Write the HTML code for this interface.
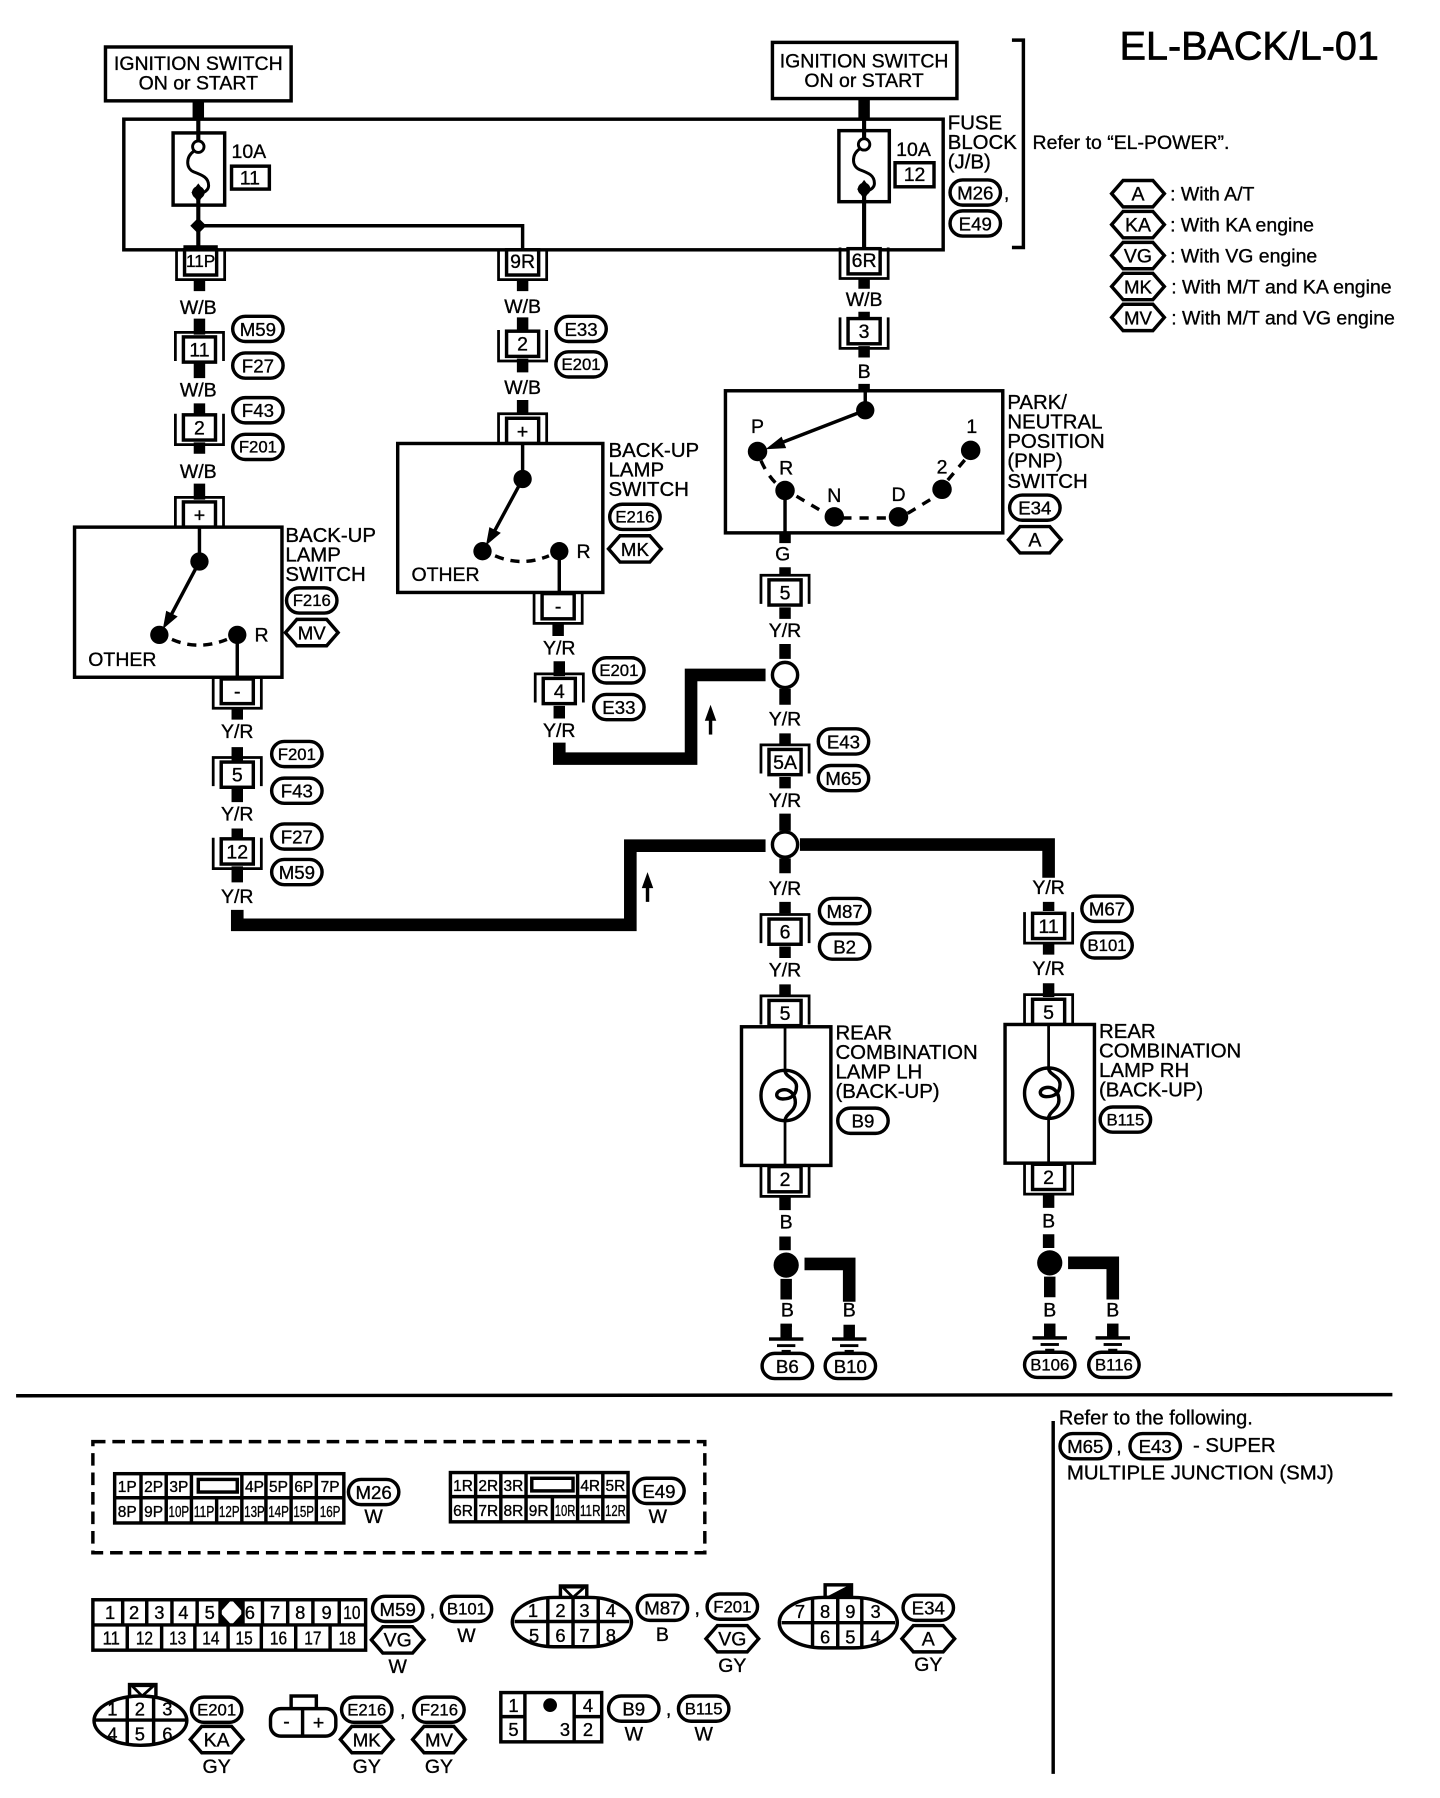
<!DOCTYPE html>
<html><head><meta charset="utf-8"><title>EL-BACK/L-01</title>
<style>
html,body{margin:0;padding:0;background:#fff}
svg{display:block}
text{font-family:"Liberation Sans",sans-serif;font-size:17px;fill:#000;stroke:#000;stroke-width:.3}
.m{text-anchor:middle}
.c{font-size:17.8px}
.s{font-size:16.3px}
.q{font-size:14.6px}
.t{font-size:13.5px}
.b{font-size:16px}
.w{fill:none;stroke:#000;stroke-width:10}
.n{fill:none;stroke:#000;stroke-width:3}
.l{fill:none;stroke:#000;stroke-width:2.4}
.f{fill:#fff;stroke:#000;stroke-width:3}
.d{fill:#000}
</style></head><body>
<svg xmlns="http://www.w3.org/2000/svg" width="1440" height="1798" viewBox="0 0 1256.5 1569">
<defs>
<g id="cap"><path class="l" d="M-21 10V-15H21V10"/><rect class="f" x="-14" y="-11" width="28" height="22"/></g>
<g id="cup"><path class="l" d="M-21 -12V15H21V-12"/><rect class="f" x="-14" y="-11" width="28" height="22"/></g>
<rect id="o" class="f" x="-22" y="-11" width="44" height="22" rx="11"/>
<polygon id="h" class="f" points="-23,0 -13,-11.5 13,-11.5 23,0 13,11.5 -13,11.5"/>
<g id="gnd"><rect x="-5" y="-12" width="10" height="12" class="d"/><rect x="-15" y="-1" width="30" height="3" class="d"/><rect x="-8" y="5" width="16" height="2.5" class="d"/><rect x="-4" y="10" width="8" height="2" class="d"/></g>
<path id="fs" class="l" style="stroke-width:2.6" d="M-4 4C-11 9-11 19-4 22C4 25 9 27 9 34C9 38 5 40 2 41"/>
<path id="coil" class="n" d="M0 -22C0 -16 10 -15 10 -8C10 0 5 3 -2 3C-9 3 -9 -4 -2 -5C5 -6 9 0 9 6C9 14 0 16 0 22"/>
</defs>
<rect width="1256.5" height="1569" fill="#fff"/>

<!-- thick wire segments -->
<g class="w">
<path d="M173 88V105M754 86V105"/>
<path d="M174 243V254M174 278V292M174 316V330M174 352V362M174 386V396M174 422V436"/>
<path d="M207 618V628M207 652V664M207 688V700M207 723V733M207 756V770"/>
<path d="M456 243V254M456 277V291M456 313V325M456 349V362"/>
<path d="M487 545V555M488 577V590M488 616V627"/>
<path d="M754 243V252M754 272V280M754 302V312M754 335V342"/>
<path d="M685 465V474M685 495V503M685 530V540M685 562V575M685 601V615M685 640V651M685 678V688M685 710V725M685 749V762M685 787V797M685 826V836M685 859V869M685 1044V1056M685 1079V1091M686 1116V1134M686 1155V1158"/>
<path d="M915 787V795M915 822V833M915 858V870M915 1042V1054M915 1077V1089M916 1114V1132"/>
</g>
<g fill="none" stroke="#000" stroke-width="11">
<path d="M207 794V807H550V738H668"/>
<path d="M488 648V662H603V589H668"/>
<path d="M698 737H915V766"/>
<path d="M702 1103H741V1136"/>
<path d="M932 1102H971V1134"/>
</g>

<!-- ignition -->
<rect class="f" x="92" y="41" width="162" height="47"/>
<text class="m" x="173" y="61">IGNITION SWITCH</text><text class="m" x="173" y="78">ON or START</text>
<rect class="f" x="674" y="37" width="161" height="49"/>
<text class="m" x="754" y="59">IGNITION SWITCH</text><text class="m" x="754" y="76">ON or START</text>

<!-- fuse block -->
<rect class="f" x="108" y="104" width="715" height="114"/>
<path class="n" style="stroke-width:3.6" d="M173 104V124M173 168V218M754 104V122M754 165V216"/>
<path class="n" d="M173 197H456V218"/>
<rect class="n" x="151" y="116" width="45" height="63"/>
<rect class="n" x="732" y="114" width="44" height="62"/>
<g transform="translate(173 128)"><use href="#fs"/><circle r="5" fill="#fff" stroke="#000" stroke-width="2.5"/><polygon class="d" points="0,32 6,40 0,49 -6,40"/><circle cy="40" r="5.5" class="d"/></g>
<g transform="translate(754 126)"><use href="#fs"/><circle r="5" fill="#fff" stroke="#000" stroke-width="2.5"/><polygon class="d" points="0,31 6,39 0,48 -6,39"/><circle cy="39" r="5.5" class="d"/></g>
<polygon class="d" points="173,190 180,197 173,204 166,197"/>
<text x="202" y="138">10A</text><rect class="n" x="202" y="145" width="33" height="20"/><text class="m" x="218" y="161">11</text>
<text x="782" y="136">10A</text><rect class="n" x="781" y="142" width="34" height="21"/><text class="m" x="798" y="158">12</text>
<text class="c" x="827" y="113">FUSE</text><text class="c" x="827" y="130">BLOCK</text><text class="c" x="827" y="147">(J/B)</text>
<use href="#o" x="851" y="168"/><text class="m s" x="851" y="174">M26</text><text x="876" y="174">,</text>
<use href="#o" x="851" y="195"/><text class="m s" x="851" y="201">E49</text>
<path class="n" d="M883 35H893V216H883"/>
<text x="901" y="130">Refer to “EL-POWER”.</text>
<text x="977" y="52" style="font-size:34.5px;stroke-width:.6">EL-BACK/L-01</text>

<!-- legend -->
<use href="#h" x="993" y="169"/><text class="m" x="993" y="175">A</text><text x="1021" y="175">: With A/T</text>
<use href="#h" x="993" y="196"/><text class="m" x="993" y="202">KA</text><text x="1021" y="202">: With KA engine</text>
<use href="#h" x="993" y="223"/><text class="m" x="993" y="229">VG</text><text x="1021" y="229">: With VG engine</text>
<use href="#h" x="993" y="250"/><text class="m s" x="993" y="256">MK</text><text x="1022" y="256">: With M/T and KA engine</text>
<use href="#h" x="993" y="277"/><text class="m s" x="993" y="283">MV</text><text x="1022" y="283">: With M/T and VG engine</text>

<!-- left column -->
<use href="#cup" x="175" y="229"/><rect x="160" y="214" width="30" height="4" class="d"/><text class="m t" style="font-size:15px" x="175" y="233">11P</text>
<text class="m" x="173" y="274">W/B</text>
<use href="#cap" x="174" y="305"/><text class="m" x="174" y="311">11</text>
<text class="m" x="173" y="346">W/B</text>
<use href="#cup" x="174" y="373"/><text class="m" x="174" y="379">2</text>
<text class="m" x="173" y="417">W/B</text>
<use href="#o" x="225" y="287"/><text class="m s" x="225" y="293">M59</text>
<use href="#o" x="225" y="319"/><text class="m s" x="225" y="325">F27</text>
<use href="#o" x="225" y="358"/><text class="m s" x="225" y="364">F43</text>
<use href="#o" x="225" y="390"/><text class="m q" x="225" y="395">F201</text>

<use href="#cap" x="174" y="449"/><text class="m" x="174" y="455">+</text>
<rect class="f" x="65" y="460" width="181" height="131"/>
<path class="n" d="M174 460V490M207 554V591"/>
<circle cx="174" cy="490" r="8" class="d"/><circle cx="139" cy="554" r="8" class="d"/><circle cx="207" cy="554" r="8" class="d"/>
<path class="n" d="M174 490L147 541"/><polygon class="d" points="142,549 145,533 155,538"/>
<path class="n" stroke-dasharray="8 6" d="M150 558Q173 568 198 558"/>
<text x="222" y="560">R</text><text x="77" y="581">OTHER</text>
<text class="c" x="249" y="473">BACK-UP</text><text class="c" x="249" y="490">LAMP</text><text class="c" x="249" y="507">SWITCH</text>
<use href="#o" x="272" y="524"/><text class="m q" x="272" y="529">F216</text>
<use href="#h" x="272" y="552"/><text class="m s" x="272" y="558">MV</text>

<use href="#cup" x="207" y="603"/><rect x="193" y="591" width="28" height="3" class="d"/><text class="m" x="207" y="609">-</text>
<text class="m" x="207" y="644">Y/R</text>
<use href="#cap" x="207" y="676"/><text class="m" x="207" y="682">5</text>
<text class="m" x="207" y="716">Y/R</text>
<use href="#cup" x="207" y="743"/><text class="m" x="207" y="749">12</text>
<text class="m" x="207" y="788">Y/R</text>
<use href="#o" x="259" y="658"/><text class="m q" x="259" y="663">F201</text>
<use href="#o" x="259" y="690"/><text class="m s" x="259" y="696">F43</text>
<use href="#o" x="259" y="730"/><text class="m s" x="259" y="736">F27</text>
<use href="#o" x="259" y="761"/><text class="m s" x="259" y="767">M59</text>
<path d="M565 787V771" stroke="#000" stroke-width="3"/><polygon class="d" points="565,761 560,775 570,775"/>

<!-- middle column -->
<use href="#cup" x="456" y="229"/><text class="m" x="456" y="234">9R</text>
<text class="m" x="456" y="273">W/B</text>
<use href="#cup" x="456" y="300"/><text class="m" x="456" y="306">2</text>
<text class="m" x="456" y="344">W/B</text>
<use href="#o" x="507" y="287"/><text class="m s" x="507" y="293">E33</text>
<use href="#o" x="507" y="318"/><text class="m q" x="507" y="323">E201</text>
<use href="#cap" x="456" y="376"/><text class="m" x="456" y="382">+</text>
<rect class="f" x="347" y="387" width="179" height="130"/>
<path class="n" d="M456 387V418M488 481V517"/>
<circle cx="456" cy="418" r="8" class="d"/><circle cx="421" cy="481" r="8" class="d"/><circle cx="488" cy="481" r="8" class="d"/>
<path class="n" d="M456 418L429 468"/><polygon class="d" points="424,476 427,460 437,465"/>
<path class="n" stroke-dasharray="8 6" d="M432 485Q455 495 479 485"/>
<text x="503" y="487">R</text><text x="359" y="507">OTHER</text>
<text class="c" x="531" y="399">BACK-UP</text><text class="c" x="531" y="416">LAMP</text><text class="c" x="531" y="433">SWITCH</text>
<use href="#o" x="554" y="451"/><text class="m q" x="554" y="456">E216</text>
<use href="#h" x="554" y="479"/><text class="m s" x="554" y="485">MK</text>
<use href="#cup" x="487" y="529"/><text class="m" x="487" y="535">-</text>
<text class="m" x="488" y="571">Y/R</text>
<use href="#cap" x="488" y="603"/><text class="m" x="488" y="609">4</text>
<text class="m" x="488" y="643">Y/R</text>
<use href="#o" x="540" y="585"/><text class="m q" x="540" y="590">E201</text>
<use href="#o" x="540" y="617"/><text class="m s" x="540" y="623">E33</text>
<path d="M620 641V625" stroke="#000" stroke-width="3"/><polygon class="d" points="620,615 615,629 625,629"/>

<!-- right column -->
<use href="#cup" x="754" y="228"/><text class="m" x="754" y="233">6R</text>
<text class="m" x="754" y="267">W/B</text>
<use href="#cup" x="754" y="289"/><text class="m" x="754" y="295">3</text>
<text class="m" x="754" y="330">B</text>

<rect class="f" x="633" y="341" width="242" height="124"/>
<path class="n" d="M755 341V358M685 428V465"/>
<circle cx="755" cy="358" r="8" class="d"/>
<circle cx="661" cy="394" r="8.5" class="d"/><circle cx="685" cy="428" r="8.5" class="d"/><circle cx="728" cy="451" r="8.5" class="d"/><circle cx="784" cy="451" r="8.5" class="d"/><circle cx="822" cy="427" r="8.5" class="d"/><circle cx="847" cy="393" r="8.5" class="d"/>
<path class="n" d="M755 358L675 389"/><polygon class="d" points="668,392 682,381 686,391"/>
<path class="n" stroke-dasharray="8 7" d="M664 402Q672 420 685 428M695 433L722 449M735 452H778M792 448L815 434M827 419L843 400"/>
<text class="m" x="661" y="378">P</text><text class="m" x="686" y="414">R</text><text class="m" x="728" y="438">N</text><text class="m" x="784" y="437">D</text><text class="m" x="822" y="413">2</text><text class="m" x="848" y="378">1</text>
<text class="c" x="879" y="357">PARK/</text><text class="c" x="879" y="374">NEUTRAL</text><text class="c" x="879" y="391">POSITION</text><text class="c" x="879" y="408">(PNP)</text><text class="c" x="879" y="426">SWITCH</text>
<use href="#o" x="903" y="443"/><text class="m s" x="903" y="449">E34</text>
<use href="#h" x="903" y="471"/><text class="m" x="903" y="477">A</text>

<text class="m" x="683" y="489">G</text>
<use href="#cap" x="685" y="517"/><text class="m" x="685" y="523">5</text>
<text class="m" x="685" y="556">Y/R</text>
<circle class="f" cx="685" cy="589" r="11"/>
<text class="m" x="685" y="633">Y/R</text>
<use href="#cap" x="685" y="665"/><text class="m" x="685" y="671">5A</text>
<text class="m" x="685" y="704">Y/R</text>
<circle class="f" cx="685" cy="737" r="11"/>
<text class="m" x="685" y="781">Y/R</text>
<use href="#cap" x="685" y="813"/><text class="m" x="685" y="819">6</text>
<text class="m" x="685" y="852">Y/R</text>
<use href="#o" x="736" y="647"/><text class="m s" x="736" y="653">E43</text>
<use href="#o" x="736" y="679"/><text class="m s" x="736" y="685">M65</text>
<use href="#o" x="737" y="795"/><text class="m s" x="737" y="801">M87</text>
<use href="#o" x="737" y="826"/><text class="m s" x="737" y="832">B2</text>

<text class="m" x="915" y="780">Y/R</text>
<use href="#cup" x="915" y="808"/><text class="m" x="915" y="814">11</text>
<text class="m" x="915" y="851">Y/R</text>
<use href="#o" x="966" y="793"/><text class="m s" x="966" y="799">M67</text>
<use href="#o" x="966" y="825"/><text class="m q" x="966" y="830">B101</text>

<!-- lamps -->
<use href="#cap" x="685" y="884"/><text class="m" x="685" y="890">5</text>
<rect class="f" x="647" y="896" width="78" height="121"/>
<path class="l" d="M685 896V934M685 978V1017"/>
<ellipse cx="685" cy="956" rx="21" ry="22" class="n"/>
<use href="#coil" x="685" y="956"/>
<use href="#cup" x="685" y="1029"/><text class="m" x="685" y="1035">2</text>
<text class="c" x="729" y="907">REAR</text><text class="c" x="729" y="924">COMBINATION</text><text class="c" x="729" y="941">LAMP LH</text><text class="c" x="729" y="958">(BACK-UP)</text>
<use href="#o" x="753" y="978"/><text class="m s" x="753" y="984">B9</text>
<text class="m" x="686" y="1072">B</text>
<circle cx="686" cy="1104" r="11" class="d"/>
<text class="m" x="687" y="1149">B</text><text class="m" x="741" y="1149">B</text>
<use href="#gnd" x="686" y="1168"/><use href="#gnd" x="741" y="1168"/>
<use href="#o" x="687" y="1192"/><text class="m s" x="687" y="1198">B6</text>
<use href="#o" x="742" y="1192"/><text class="m s" x="742" y="1198">B10</text>

<use href="#cap" x="915" y="883"/><text class="m" x="915" y="889">5</text>
<rect class="f" x="877" y="894" width="78" height="121"/>
<path class="l" d="M915 894V932M915 976V1015"/>
<ellipse cx="915" cy="954" rx="21" ry="22" class="n"/>
<use href="#coil" x="915" y="954"/>
<use href="#cup" x="915" y="1027"/><text class="m" x="915" y="1033">2</text>
<text class="c" x="959" y="906">REAR</text><text class="c" x="959" y="923">COMBINATION</text><text class="c" x="959" y="940">LAMP RH</text><text class="c" x="959" y="957">(BACK-UP)</text>
<use href="#o" x="982" y="977"/><text class="m q" x="982" y="982">B115</text>
<text class="m" x="915" y="1071">B</text>
<circle cx="916" cy="1102" r="11" class="d"/>
<text class="m" x="916" y="1149">B</text><text class="m" x="971" y="1149">B</text>
<use href="#gnd" x="916" y="1167"/><use href="#gnd" x="971" y="1167"/>
<use href="#o" x="916" y="1191"/><text class="m q" x="916" y="1196">B106</text>
<use href="#o" x="972" y="1191"/><text class="m q" x="972" y="1196">B116</text>

<!-- dividers -->
<path class="n" d="M14 1218L1215 1217M919 1240V1548"/>
<text x="924" y="1243" style="font-size:17.5px">Refer to the following.</text>
<use href="#o" x="947" y="1262"/><text class="m s" x="947" y="1268">M65</text><text x="974" y="1268">,</text>
<use href="#o" x="1008" y="1262"/><text class="m s" x="1008" y="1268">E43</text>
<text class="c" x="1041" y="1267">- SUPER</text>
<text class="c" x="931" y="1291">MULTIPLE JUNCTION (SMJ)</text>

<!-- fuse block connector views -->
<rect x="81" y="1258" width="534" height="97" fill="none" stroke="#000" stroke-width="3" stroke-dasharray="11 6"/>
<rect class="n" x="100" y="1286" width="200" height="43"/>
<path class="n" d="M100 1307H300M123 1286V1329M145 1286V1329M167 1286V1329M211 1286V1307M232 1286V1307M254 1286V1307M276 1286V1307M189 1307V1329M211 1307V1329M232 1307V1329M254 1307V1329M276 1307V1329"/>
<rect class="n" x="173" y="1291" width="34" height="11"/>
<g>
<text class="m t" x="111" y="1302">1P</text><text class="m t" x="134" y="1302">2P</text><text class="m t" x="156" y="1302">3P</text><text class="m t" x="222" y="1302">4P</text><text class="m t" x="243" y="1302">5P</text><text class="m t" x="265" y="1302">6P</text><text class="m t" x="288" y="1302">7P</text>
<text class="m t" x="111" y="1324">8P</text><text class="m t" x="134" y="1324">9P</text>
<text class="m t" x="156" y="1324" textLength="18" lengthAdjust="spacingAndGlyphs">10P</text><text class="m t" x="178" y="1324" textLength="18" lengthAdjust="spacingAndGlyphs">11P</text><text class="m t" x="200" y="1324" textLength="18" lengthAdjust="spacingAndGlyphs">12P</text><text class="m t" x="222" y="1324" textLength="18" lengthAdjust="spacingAndGlyphs">13P</text><text class="m t" x="243" y="1324" textLength="18" lengthAdjust="spacingAndGlyphs">14P</text><text class="m t" x="265" y="1324" textLength="18" lengthAdjust="spacingAndGlyphs">15P</text><text class="m t" x="288" y="1324" textLength="18" lengthAdjust="spacingAndGlyphs">16P</text>
</g>
<use href="#o" x="326" y="1302"/><text class="m s" x="326" y="1308">M26</text><text class="m" x="326" y="1329">W</text>

<rect class="n" x="393" y="1285" width="155" height="43"/>
<path class="n" d="M393 1306H548M415 1285V1328M437 1285V1328M459 1285V1328M504 1285V1306M526 1285V1328M482 1306V1328M504 1306V1328"/>
<rect class="n" x="464" y="1290" width="36" height="11"/>
<text class="m t" x="404" y="1301">1R</text><text class="m t" x="426" y="1301">2R</text><text class="m t" x="448" y="1301">3R</text><text class="m t" x="515" y="1301">4R</text><text class="m t" x="537" y="1301">5R</text>
<text class="m t" x="404" y="1323">6R</text><text class="m t" x="426" y="1323">7R</text><text class="m t" x="448" y="1323">8R</text><text class="m t" x="470" y="1323">9R</text>
<text class="m t" x="493" y="1323" textLength="18" lengthAdjust="spacingAndGlyphs">10R</text><text class="m t" x="515" y="1323" textLength="18" lengthAdjust="spacingAndGlyphs">11R</text><text class="m t" x="537" y="1323" textLength="18" lengthAdjust="spacingAndGlyphs">12R</text>
<use href="#o" x="575" y="1301"/><text class="m s" x="575" y="1307">E49</text><text class="m" x="574" y="1329">W</text>

<!-- 18-pin -->
<rect class="n" x="81" y="1396" width="238" height="44"/>
<path class="n" d="M81 1418H319M107 1396V1418M128 1396V1418M150 1396V1418M172 1396V1418M192 1396V1418M212 1396V1418M229 1396V1418M251 1396V1418M273 1396V1418M296 1396V1418M111 1418V1440M141 1418V1440M170 1418V1440M199 1418V1440M228 1418V1440M258 1418V1440M288 1418V1440"/>
<polygon class="d" points="192,1396 202,1396 192,1407"/><polygon class="d" points="202,1396 212,1396 212,1407"/><polygon class="d" points="192,1407 202,1418 192,1418"/><polygon class="d" points="212,1407 212,1418 202,1418"/>
<text class="m b" x="96" y="1413">1</text><text class="m b" x="117" y="1413">2</text><text class="m b" x="139" y="1413">3</text><text class="m b" x="160" y="1413">4</text><text class="m b" x="183" y="1413">5</text><text class="m b" x="218" y="1413">6</text><text class="m b" x="240" y="1413">7</text><text class="m b" x="262" y="1413">8</text><text class="m b" x="285" y="1413">9</text><text class="m b" x="307" y="1413" textLength="15" lengthAdjust="spacingAndGlyphs">10</text>
<text class="m b" x="97" y="1435" textLength="15" lengthAdjust="spacingAndGlyphs">11</text><text class="m b" x="126" y="1435" textLength="15" lengthAdjust="spacingAndGlyphs">12</text><text class="m b" x="155" y="1435" textLength="15" lengthAdjust="spacingAndGlyphs">13</text><text class="m b" x="184" y="1435" textLength="15" lengthAdjust="spacingAndGlyphs">14</text><text class="m b" x="213" y="1435" textLength="15" lengthAdjust="spacingAndGlyphs">15</text><text class="m b" x="243" y="1435" textLength="15" lengthAdjust="spacingAndGlyphs">16</text><text class="m b" x="273" y="1435" textLength="15" lengthAdjust="spacingAndGlyphs">17</text><text class="m b" x="303" y="1435" textLength="15" lengthAdjust="spacingAndGlyphs">18</text>
<use href="#o" x="347" y="1404"/><text class="m s" x="347" y="1410">M59</text><text x="375" y="1410">,</text>
<use href="#o" x="407" y="1404"/><text class="m q" x="407" y="1409">B101</text>
<use href="#h" x="347" y="1431"/><text class="m" x="347" y="1437">VG</text>
<text class="m" x="347" y="1460">W</text><text class="m" x="407" y="1433">W</text>

<!-- 8-pin -->
<rect class="n" x="489" y="1384" width="23" height="11"/><polygon class="l" points="491,1385 510,1385 500,1394"/>
<rect class="f" x="447" y="1394" width="104" height="43" rx="36" ry="21.5"/>
<path class="n" d="M449 1415H549M478 1394V1437M500 1394V1437M522 1394V1437"/>
<text class="m b" x="465" y="1411">1</text><text class="m b" x="489" y="1411">2</text><text class="m b" x="510" y="1411">3</text><text class="m b" x="533" y="1411">4</text>
<text class="m b" x="466" y="1433">5</text><text class="m b" x="489" y="1433">6</text><text class="m b" x="510" y="1433">7</text><text class="m b" x="533" y="1433">8</text>
<use href="#o" x="578" y="1403"/><text class="m s" x="578" y="1409">M87</text><text x="606" y="1409">,</text>
<text class="m" x="578" y="1432">B</text>
<use href="#o" x="639" y="1402"/><text class="m q" x="639" y="1407">F201</text>
<use href="#h" x="639" y="1430"/><text class="m" x="639" y="1436">VG</text><text class="m" x="639" y="1459">GY</text>

<!-- E34 view -->
<rect class="n" x="720" y="1383" width="23" height="11"/><polygon class="d" points="720,1394 743,1382 743,1394"/>
<rect class="f" x="680" y="1394" width="103" height="44" rx="38" ry="22"/>
<path class="n" d="M682 1416H781M709 1394V1438M731 1394V1438M752 1394V1438"/>
<text class="m b" x="698" y="1412">7</text><text class="m b" x="720" y="1412">8</text><text class="m b" x="742" y="1412">9</text><text class="m b" x="764" y="1412">3</text>
<text class="m b" x="720" y="1434">6</text><text class="m b" x="742" y="1434">5</text><text class="m b" x="764" y="1434">4</text>
<use href="#o" x="810" y="1403"/><text class="m s" x="810" y="1409">E34</text>
<use href="#h" x="810" y="1430"/><text class="m" x="810" y="1436">A</text><text class="m" x="810" y="1458">GY</text>

<!-- 6-pin -->
<rect class="n" x="113" y="1470" width="23" height="11"/><polygon class="l" points="115,1471 134,1471 124,1480"/>
<ellipse class="f" cx="122.5" cy="1501.5" rx="40.5" ry="21.5"/>
<path class="n" d="M83 1501H162M111 1480V1523M134 1480V1523"/>
<text class="m b" x="98" y="1497">1</text><text class="m b" x="122" y="1497">2</text><text class="m b" x="146" y="1497">3</text>
<text class="m b" x="98" y="1519">4</text><text class="m b" x="122" y="1519">5</text><text class="m b" x="146" y="1519">6</text>
<use href="#o" x="189" y="1492"/><text class="m q" x="189" y="1497">E201</text>
<use href="#h" x="189" y="1518"/><text class="m" x="189" y="1524">KA</text><text class="m" x="189" y="1547">GY</text>

<!-- 2-pin -->
<rect class="n" x="254" y="1480" width="22" height="12"/>
<rect class="f" x="236" y="1491" width="57" height="24" rx="9"/>
<path class="n" d="M264 1491V1515"/>
<text class="m" x="250" y="1508">-</text><text class="m" x="278" y="1509">+</text>
<use href="#o" x="320" y="1492"/><text class="m q" x="320" y="1497">E216</text><text x="349" y="1498">,</text>
<use href="#o" x="383" y="1492"/><text class="m q" x="383" y="1497">F216</text>
<use href="#h" x="320" y="1518"/><text class="m s" x="320" y="1524">MK</text><text class="m" x="320" y="1547">GY</text>
<use href="#h" x="383" y="1518"/><text class="m s" x="383" y="1524">MV</text><text class="m" x="383" y="1547">GY</text>

<!-- lamp connector -->
<rect class="n" x="437" y="1477" width="88" height="43"/>
<path class="n" d="M437 1498H458M501 1498H525M458 1477V1520M501 1477V1520"/>
<circle cx="480" cy="1488" r="6" class="d"/>
<text class="m b" x="448" y="1494">1</text><text class="m b" x="513" y="1494">4</text><text class="m b" x="448" y="1515">5</text><text class="m b" x="493" y="1515">3</text><text class="m b" x="513" y="1515">2</text>
<use href="#o" x="553" y="1491"/><text class="m s" x="553" y="1497">B9</text><text x="581" y="1497">,</text>
<use href="#o" x="614" y="1491"/><text class="m q" x="614" y="1496">B115</text>
<text class="m" x="553" y="1519">W</text><text class="m" x="614" y="1519">W</text>
</svg>
</body></html>
